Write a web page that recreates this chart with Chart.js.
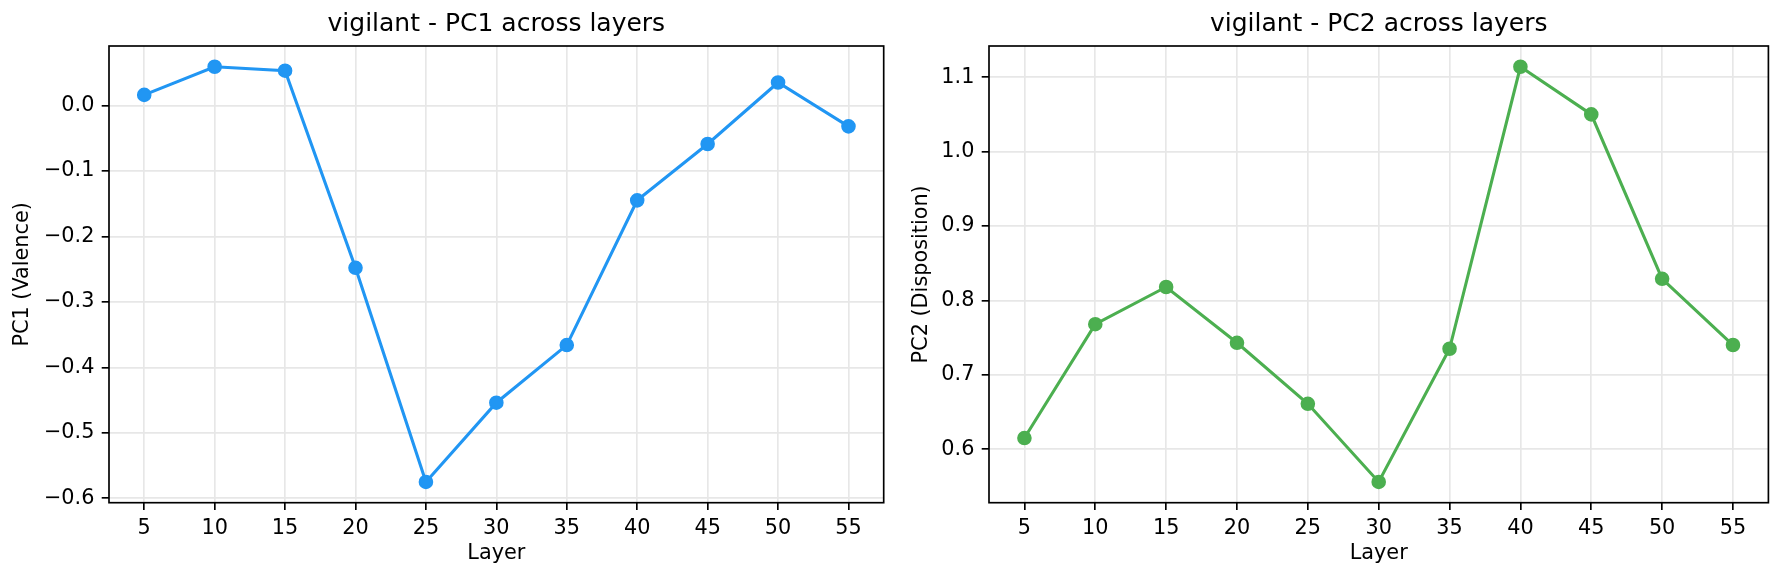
<!DOCTYPE html>
<html>
<head>
<meta charset="utf-8">
<script src="https://cdn.jsdelivr.net/npm/chart.js@4.4.1/dist/chart.umd.min.js"></script>
<style>
  html, body { margin: 0; padding: 0; background: #fff; }
  #wrap { position: relative; width: 1784px; height: 581px; overflow: hidden; }
  .box { position: absolute; top: 0; height: 581px; }
  #box1 { left: 0; width: 892px; }
  #box2 { left: 892px; width: 892px; }
</style>
</head>
<body>
<div id="wrap">
  <div class="box" id="box1"><canvas id="pc1-chart"></canvas></div>
  <div class="box" id="box2"><canvas id="pc2-chart"></canvas></div>
</div>
<script>
// valores
const layers = [5, 10, 15, 20, 25, 30, 35, 40, 45, 50, 55];
const pc1Values = [0.016, 0.059, 0.053, -0.248, -0.575, -0.454, -0.366, -0.145, -0.059, 0.035, -0.032];
const pc2Values = [0.615, 0.768, 0.818, 0.743, 0.661, 0.556, 0.735, 1.114, 1.050, 0.829, 0.740];
const xTicks = [5, 10, 15, 20, 25, 30, 35, 40, 45, 50, 55];
const pc1Ticks = [-0.6, -0.5, -0.4, -0.3, -0.2, -0.1, 0.0];
const pc2Ticks = [0.6, 0.7, 0.8, 0.9, 1.0, 1.1];

Chart.defaults.font.family = 'DejaVu Sans';
Chart.defaults.color = '#000';
Chart.defaults.animation = false;

// moldura completa (como os spines do matplotlib)
const framePlugin = {
    id: 'frame',
    afterDraw(chart) {
        const a = chart.chartArea;
        const ctx = chart.ctx;
        ctx.save();
        ctx.strokeStyle = '#000';
        ctx.lineWidth = 1.67;
        ctx.strokeRect(a.left, a.top, a.right - a.left, a.bottom - a.top);
        ctx.restore();
    }
};

function fmtTick(v) {
    return Number(v).toFixed(1).replace('-', '\u2212');
}

function renderLayerChart(canvasId, opts) {
    const canvas = document.getElementById(canvasId);
    const lo = Math.min(...opts.values), hi = Math.max(...opts.values);
    const m = (hi - lo) * 0.05;

    new Chart(canvas, {
        type: 'line',
        data: {
            datasets: [{
                data: layers.map((l, i) => ({ x: l, y: opts.values[i] })),
                borderColor: opts.color,
                backgroundColor: opts.color,
                borderWidth: 3.1,
                pointRadius: 6.3,
                pointBorderWidth: 2,
                pointHoverRadius: 6.3,
                tension: 0,
                fill: false
            }]
        },
        options: {
            responsive: true,
            maintainAspectRatio: false,
            layout: { padding: { left: 0, right: opts.padRight, top: 0, bottom: 0 } },
            plugins: {
                legend: { display: false },
                tooltip: { enabled: false },
                title: {
                    display: true,
                    text: opts.title,
                    fullSize: false,
                    font: { size: 25, weight: 'normal' },
                    padding: { top: 9.4, bottom: 6.6 }
                }
            },
            scales: {
                x: {
                    type: 'linear',
                    min: 2.5,
                    max: 57.5,
                    afterBuildTicks: s => { s.ticks = xTicks.map(v => ({ value: v })); },
                    afterFit: s => { s.height = 78.3; },
                    border: { display: false },
                    grid: {
                        color: '#e7e7e7',
                        lineWidth: 1.67,
                        tickLength: 7.3,
                        tickColor: '#000',
                        tickWidth: 1.67
                    },
                    ticks: {
                        font: { size: 20.8 },
                        padding: 6,
                        maxRotation: 0,
                        autoSkip: false,
                        callback: v => String(v)
                    },
                    title: {
                        display: true,
                        text: 'Layer',
                        font: { size: 20.8 },
                        padding: { top: 0, bottom: 14.5 }
                    }
                },
                y: {
                    type: 'linear',
                    min: lo - m,
                    max: hi + m,
                    afterBuildTicks: s => { s.ticks = opts.ticks.map(v => ({ value: v })); },
                    afterFit: s => { s.width = opts.yWidth; },
                    border: { display: false },
                    grid: {
                        color: '#e7e7e7',
                        lineWidth: 1.67,
                        tickLength: 7.3,
                        tickColor: '#000',
                        tickWidth: 1.67
                    },
                    ticks: {
                        font: { size: 20.8 },
                        padding: 7.3,
                        autoSkip: false,
                        callback: v => fmtTick(v)
                    },
                    title: {
                        display: true,
                        text: opts.yLabel,
                        font: { size: 20.8 },
                        padding: { top: opts.yTitlePad, bottom: 0 }
                    }
                }
            }
        },
        plugins: [framePlugin]
    });
}

renderLayerChart('pc1-chart', {
    values: pc1Values,
    ticks: pc1Ticks,
    color: '#2196F3',
    title: 'vigilant - PC1 across layers',
    yLabel: 'PC1 (Valence)',
    yWidth: 109,
    yTitlePad: 10.5,
    padRight: 3.3
});

renderLayerChart('pc2-chart', {
    values: pc2Values,
    ticks: pc2Ticks,
    color: '#4CAF50',
    title: 'vigilant - PC2 across layers',
    yLabel: 'PC2 (Disposition)',
    yWidth: 97,
    yTitlePad: 17.2,
    padRight: 15.6
});
</script>
</body>
</html>
